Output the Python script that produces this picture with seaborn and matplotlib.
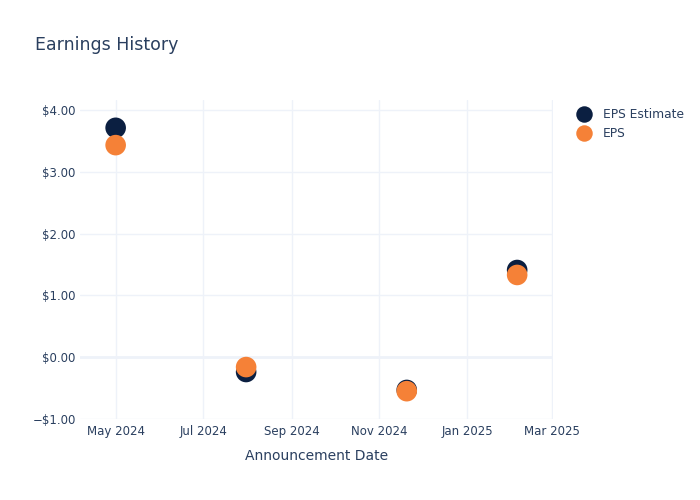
import matplotlib
matplotlib.use("Agg")
import matplotlib.pyplot as plt
import matplotlib.dates as mdates
from matplotlib.ticker import FuncFormatter, FixedLocator
import pandas as pd
import seaborn as sns

# data
dates = ["2024-05-01", "2024-07-31", "2024-11-20", "2025-02-05"]
eps_estimate = [3.71, -0.24, -0.53, 1.41]
eps_actual = [3.43, -0.16, -0.55, 1.33]
series_names = ["EPS Estimate", "EPS"]
y_ticks = [-1, 0, 1, 2, 3, 4]

TEXT = "#2a3f5f"
GRID = "#eef2f9"
colors = {"EPS Estimate": "#0b1f41", "EPS": "#f58137"}

df = pd.DataFrame({
    "date": pd.to_datetime(dates * 2),
    "value": eps_estimate + eps_actual,
    "series": [series_names[0]] * len(dates) + [series_names[1]] * len(dates),
})

sns.set_style("white")
plt.rcParams["font.family"] = ["DejaVu Sans"]

fig = plt.figure(figsize=(7, 5), dpi=100)
ax = fig.add_axes([0.114, 0.162, 0.676, 0.638])

sns.scatterplot(data=df, x="date", y="value", hue="series", hue_order=series_names,
                palette=colors, s=220, linewidth=0, ax=ax, zorder=3)

ax.set_xlim(pd.Timestamp("2024-04-06"), pd.Timestamp("2025-03-02"))
ax.set_ylim(-1, 4.16)

ax.xaxis.set_major_locator(mdates.MonthLocator(bymonth=[1, 3, 5, 7, 9, 11]))
ax.xaxis.set_major_formatter(mdates.DateFormatter("%b %Y"))
ax.yaxis.set_major_locator(FixedLocator(y_ticks))


def money(v, pos):
    if v < 0:
        return f"\u2212${abs(v):.2f}"
    return f"${v:.2f}"


ax.yaxis.set_major_formatter(FuncFormatter(money))

ax.grid(True, color=GRID, linewidth=1, zorder=0)
ax.axhline(0, color=GRID, linewidth=2, zorder=1)
for sp in ax.spines.values():
    sp.set_visible(False)
ax.tick_params(axis="both", length=0, labelsize=8.5, labelcolor=TEXT)
ax.tick_params(axis="y", pad=3)
ax.tick_params(axis="x", pad=4)

ax.set_xlabel("Announcement Date", fontsize=10, color=TEXT, labelpad=8)
ax.set_ylabel("")

fig.text(0.05, 0.91, "Earnings History", fontsize=12.5, color=TEXT, va="center")

handles, labels = ax.get_legend_handles_labels()
ax.legend(handles, labels, loc="upper left", bbox_to_anchor=(1.03, 0.99),
          frameon=False, fontsize=8.8, labelcolor=TEXT, markerscale=0.8,
          handletextpad=0.5, labelspacing=0.5, borderaxespad=0)

plt.savefig("out.png", dpi=100)
